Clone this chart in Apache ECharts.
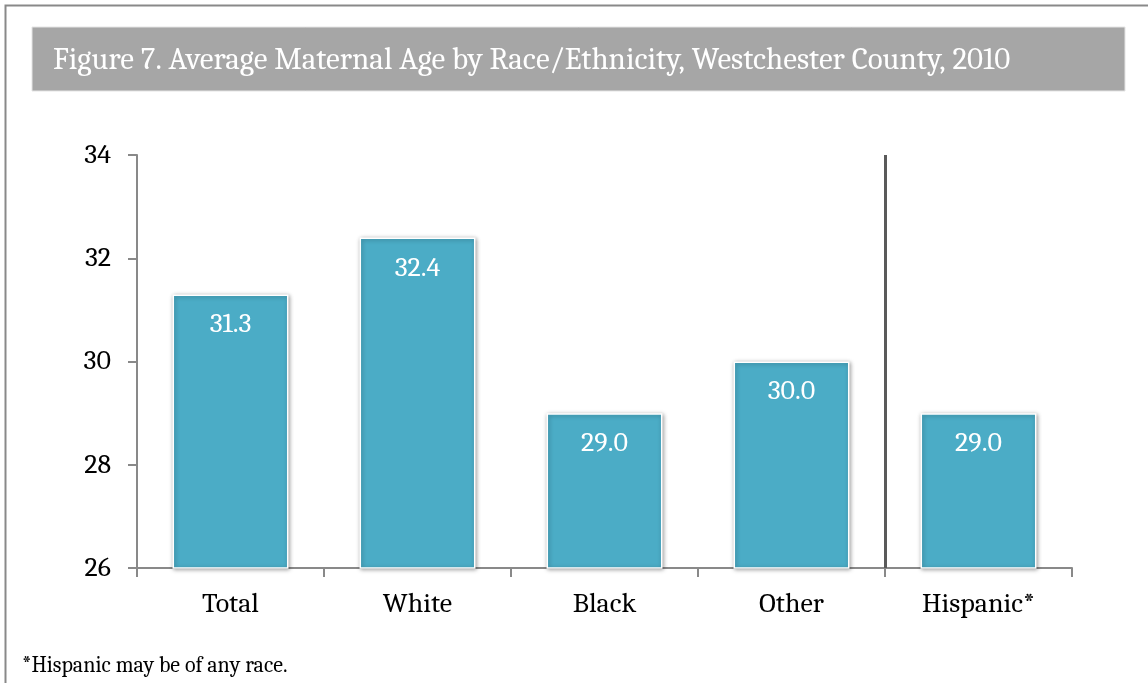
<!DOCTYPE html>
<html>
<head>
<meta charset="utf-8">
<script src="https://cdn.jsdelivr.net/npm/echarts@6/dist/echarts.min.js"></script>
<style>
  html, body { margin: 0; padding: 0; background: #fff; }
  #chart { width: 1148px; height: 683px; }
</style>
</head>
<body>
<div id="chart"></div>
<script>
var categories = ['Total', 'White', 'Black', 'Other', 'Hispanic*'];
var ages = [31.3, 32.4, 29.0, 30.0, 29.0];
// separator sits between "Other" and "Hispanic*" (boundary index on a 0..5 scale)
var separatorAt = [4];
var titleText = 'Figure 7. Average Maternal Age by Race/Ethnicity, Westchester County, 2010';
var footnote = '*Hispanic may be of any race.';

var serif = 'Cambria, "Liberation Serif", "DejaVu Serif", serif';

var chart = echarts.init(document.getElementById('chart'));

var option = {
  backgroundColor: '#fff',
  animation: false,
  graphic: [
    // outer frame
    {
      type: 'rect',
      shape: { x: 5.5, y: 5.5, width: 1160, height: 700 },
      style: { fill: 'none', stroke: '#898989', lineWidth: 2 },
      z: 0
    },
    // title band
    {
      type: 'rect',
      shape: { x: 32, y: 27, width: 1093, height: 64 },
      style: { fill: '#a6a6a6', stroke: '#e4e4e4', lineWidth: 1 },
      z: 0
    }
  ],
  title: [
    {
      text: titleText,
      left: 53,
      top: 45,
      padding: 0,
      textStyle: { color: '#fff', fontFamily: serif, fontSize: 31, fontWeight: 'normal' }
    },
    {
      text: footnote,
      left: 22,
      top: 655,
      padding: 0,
      textStyle: { color: '#000', fontFamily: serif, fontSize: 22, fontWeight: 'normal' }
    }
  ],
  grid: { left: 137, right: 76, top: 155, bottom: 115 },
  xAxis: [
    {
      type: 'category',
      data: categories,
      axisLine: { lineStyle: { color: '#898989', width: 2 } },
      axisTick: { show: true, length: 9, alignWithLabel: false, lineStyle: { color: '#898989', width: 2 } },
      axisLabel: { color: '#000', fontFamily: serif, fontSize: 28, margin: 22 },
      splitLine: { show: false }
    },
    {
      // hidden helper axis for the group separator
      type: 'value',
      min: 0,
      max: categories.length,
      show: false
    }
  ],
  yAxis: {
    type: 'value',
    min: 26,
    max: 34,
    interval: 2,
    axisLine: { show: true, lineStyle: { color: '#898989', width: 2 } },
    axisTick: { show: true, length: 9, lineStyle: { color: '#898989', width: 2 } },
    axisLabel: { color: '#000', fontFamily: serif, fontSize: 28, margin: 26 },
    splitLine: { show: false }
  },
  series: [
    {
      type: 'bar',
      data: ages,
      barWidth: '62%',
      itemStyle: {
        color: '#4bacc6',
        borderColor: '#ffffff',
        borderWidth: 1.5,
        shadowColor: 'rgba(0,0,0,0.35)',
        shadowBlur: 4,
        shadowOffsetX: 1,
        shadowOffsetY: 1
      },
      label: {
        show: true,
        position: 'insideTop',
        distance: 16,
        color: '#fff',
        fontFamily: serif,
        fontSize: 28,
        formatter: function (p) { return p.value.toFixed(1); }
      }
    },
    {
      type: 'line',
      xAxisIndex: 1,
      data: [],
      silent: true,
      markLine: {
        symbol: ['none', 'none'],
        silent: true,
        label: { show: false },
        lineStyle: { color: '#5a5a5a', width: 3, type: 'solid' },
        data: separatorAt.map(function (v) { return { xAxis: v }; })
      }
    }
  ]
};

chart.setOption(option);
</script>
</body>
</html>
